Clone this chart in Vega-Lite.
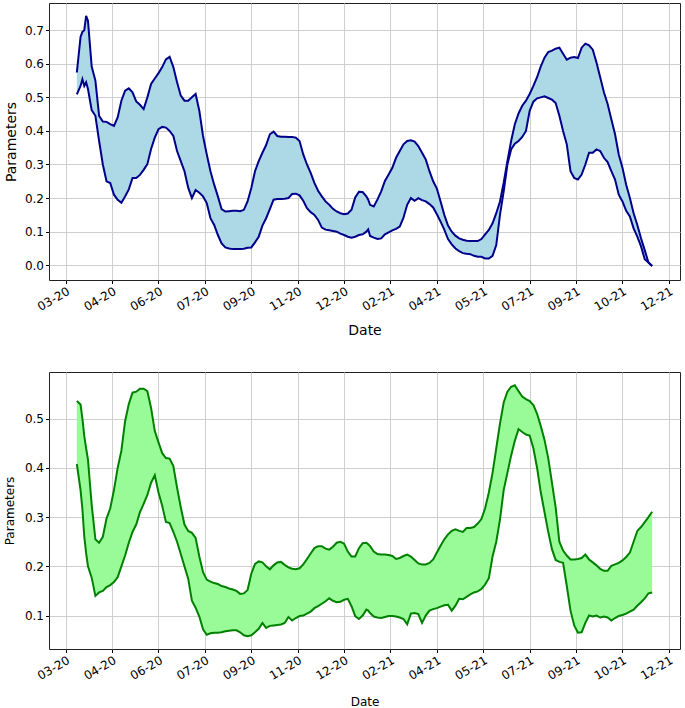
{
"$schema": "https://vega.github.io/schema/vega-lite/v6.json",
"padding": {"left": 2, "top": 2, "right": 3, "bottom": 2},
"spacing": 33,
"config": {
 "font": "DejaVu Sans",
 "view": {"stroke": "#222", "strokeWidth": 1},
 "axis": {"domain": false, "labelFontSize": 12, "labelColor": "#000", "tickColor": "#000", "tickSize": 3.5, "labelPadding": 2, "labelOverlap": false, "gridColor": "#cfcfcf", "gridWidth": 1, "titleFontWeight": "normal", "titleColor": "#000", "labelFont": "DejaVu Sans", "titleFont": "DejaVu Sans"}
},
"datasets": {"d": [
{"date":"2020-03-14","tu":0.574,"tl":0.509,"bu":0.536,"bl":0.408},
{"date":"2020-03-18","tu":0.68,"tl":0.534,"bu":0.529,"bl":0.355},
{"date":"2020-03-20","tu":0.695,"tl":0.554,"bu":0.50,"bl":0.316},
{"date":"2020-03-22","tu":0.70,"tl":0.534,"bu":0.465,"bl":0.261},
{"date":"2020-03-24","tu":0.743,"tl":0.545,"bu":0.44,"bl":0.227},
{"date":"2020-03-26","tu":0.728,"tl":0.525,"bu":0.417,"bl":0.2},
{"date":"2020-03-30","tu":0.592,"tl":0.462,"bu":0.325,"bl":0.177},
{"date":"2020-04-03","tu":0.55,"tl":0.445,"bu":0.255,"bl":0.14},
{"date":"2020-04-07","tu":0.445,"tl":0.37,"bu":0.248,"bl":0.147},
{"date":"2020-04-11","tu":0.428,"tl":0.30,"bu":0.26,"bl":0.15},
{"date":"2020-04-15","tu":0.427,"tl":0.25,"bu":0.297,"bl":0.158},
{"date":"2020-04-19","tu":0.42,"tl":0.245,"bu":0.318,"bl":0.162},
{"date":"2020-04-23","tu":0.415,"tl":0.21,"bu":0.355,"bl":0.168},
{"date":"2020-04-27","tu":0.44,"tl":0.195,"bu":0.40,"bl":0.178},
{"date":"2020-05-01","tu":0.49,"tl":0.186,"bu":0.435,"bl":0.2},
{"date":"2020-05-05","tu":0.52,"tl":0.205,"bu":0.495,"bl":0.222},
{"date":"2020-05-09","tu":0.527,"tl":0.226,"bu":0.53,"bl":0.248},
{"date":"2020-05-13","tu":0.515,"tl":0.26,"bu":0.553,"bl":0.27},
{"date":"2020-05-17","tu":0.488,"tl":0.26,"bu":0.555,"bl":0.285},
{"date":"2020-05-21","tu":0.478,"tl":0.269,"bu":0.561,"bl":0.31},
{"date":"2020-05-25","tu":0.465,"tl":0.284,"bu":0.561,"bl":0.327},
{"date":"2020-05-29","tu":0.50,"tl":0.301,"bu":0.556,"bl":0.345},
{"date":"2020-06-02","tu":0.54,"tl":0.346,"bu":0.522,"bl":0.37},
{"date":"2020-06-06","tu":0.556,"tl":0.38,"bu":0.475,"bl":0.385},
{"date":"2020-06-10","tu":0.572,"tl":0.405,"bu":0.452,"bl":0.35},
{"date":"2020-06-14","tu":0.59,"tl":0.412,"bu":0.43,"bl":0.323},
{"date":"2020-06-18","tu":0.613,"tl":0.41,"bu":0.42,"bl":0.29},
{"date":"2020-06-22","tu":0.621,"tl":0.40,"bu":0.419,"bl":0.288},
{"date":"2020-06-26","tu":0.59,"tl":0.385,"bu":0.404,"bl":0.27},
{"date":"2020-06-30","tu":0.545,"tl":0.34,"bu":0.36,"bl":0.25},
{"date":"2020-07-04","tu":0.505,"tl":0.31,"bu":0.32,"bl":0.225},
{"date":"2020-07-08","tu":0.49,"tl":0.28,"bu":0.285,"bl":0.2},
{"date":"2020-07-12","tu":0.49,"tl":0.231,"bu":0.272,"bl":0.175},
{"date":"2020-07-16","tu":0.50,"tl":0.20,"bu":0.268,"bl":0.13},
{"date":"2020-07-20","tu":0.51,"tl":0.224,"bu":0.258,"bl":0.116},
{"date":"2020-07-24","tu":0.46,"tl":0.216,"bu":0.22,"bl":0.098},
{"date":"2020-07-28","tu":0.385,"tl":0.205,"bu":0.188,"bl":0.072},
{"date":"2020-08-01","tu":0.33,"tl":0.185,"bu":0.173,"bl":0.061},
{"date":"2020-08-05","tu":0.28,"tl":0.14,"bu":0.169,"bl":0.064},
{"date":"2020-08-09","tu":0.24,"tl":0.12,"bu":0.166,"bl":0.065},
{"date":"2020-08-13","tu":0.205,"tl":0.09,"bu":0.164,"bl":0.065},
{"date":"2020-08-17","tu":0.167,"tl":0.065,"bu":0.16,"bl":0.066},
{"date":"2020-08-21","tu":0.16,"tl":0.053,"bu":0.158,"bl":0.068},
{"date":"2020-08-25","tu":0.161,"tl":0.05,"bu":0.155,"bl":0.069},
{"date":"2020-08-29","tu":0.162,"tl":0.048,"bu":0.153,"bl":0.07},
{"date":"2020-09-02","tu":0.162,"tl":0.048,"bu":0.15,"bl":0.07},
{"date":"2020-09-06","tu":0.161,"tl":0.048,"bu":0.144,"bl":0.066},
{"date":"2020-09-10","tu":0.165,"tl":0.049,"bu":0.145,"bl":0.06},
{"date":"2020-09-14","tu":0.19,"tl":0.052,"bu":0.152,"bl":0.058},
{"date":"2020-09-18","tu":0.23,"tl":0.053,"bu":0.185,"bl":0.06},
{"date":"2020-09-22","tu":0.28,"tl":0.068,"bu":0.205,"bl":0.066},
{"date":"2020-09-26","tu":0.31,"tl":0.085,"bu":0.21,"bl":0.073},
{"date":"2020-09-30","tu":0.335,"tl":0.118,"bu":0.208,"bl":0.085},
{"date":"2020-10-04","tu":0.358,"tl":0.14,"bu":0.2,"bl":0.075},
{"date":"2020-10-08","tu":0.39,"tl":0.167,"bu":0.194,"bl":0.079},
{"date":"2020-10-12","tu":0.398,"tl":0.195,"bu":0.202,"bl":0.08},
{"date":"2020-10-16","tu":0.385,"tl":0.197,"bu":0.208,"bl":0.081},
{"date":"2020-10-20","tu":0.383,"tl":0.197,"bu":0.209,"bl":0.082},
{"date":"2020-10-24","tu":0.383,"tl":0.198,"bu":0.203,"bl":0.085},
{"date":"2020-10-28","tu":0.382,"tl":0.2,"bu":0.198,"bl":0.097},
{"date":"2020-11-01","tu":0.382,"tl":0.212,"bu":0.195,"bl":0.09},
{"date":"2020-11-05","tu":0.38,"tl":0.213,"bu":0.194,"bl":0.095},
{"date":"2020-11-09","tu":0.37,"tl":0.208,"bu":0.196,"bl":0.099},
{"date":"2020-11-13","tu":0.33,"tl":0.192,"bu":0.204,"bl":0.1},
{"date":"2020-11-17","tu":0.30,"tl":0.17,"bu":0.215,"bl":0.104},
{"date":"2020-11-21","tu":0.275,"tl":0.158,"bu":0.226,"bl":0.108},
{"date":"2020-11-25","tu":0.245,"tl":0.15,"bu":0.237,"bl":0.115},
{"date":"2020-11-29","tu":0.222,"tl":0.135,"bu":0.241,"bl":0.119},
{"date":"2020-12-03","tu":0.205,"tl":0.112,"bu":0.241,"bl":0.124},
{"date":"2020-12-07","tu":0.19,"tl":0.106,"bu":0.236,"bl":0.129},
{"date":"2020-12-11","tu":0.18,"tl":0.104,"bu":0.234,"bl":0.135},
{"date":"2020-12-15","tu":0.168,"tl":0.102,"bu":0.24,"bl":0.13},
{"date":"2020-12-19","tu":0.16,"tl":0.1,"bu":0.248,"bl":0.127},
{"date":"2020-12-23","tu":0.155,"tl":0.094,"bu":0.25,"bl":0.128},
{"date":"2020-12-27","tu":0.152,"tl":0.09,"bu":0.246,"bl":0.132},
{"date":"2020-12-31","tu":0.154,"tl":0.085,"bu":0.23,"bl":0.134},
{"date":"2021-01-04","tu":0.165,"tl":0.082,"bu":0.22,"bl":0.119},
{"date":"2021-01-08","tu":0.202,"tl":0.085,"bu":0.22,"bl":0.099},
{"date":"2021-01-12","tu":0.219,"tl":0.09,"bu":0.237,"bl":0.093},
{"date":"2021-01-16","tu":0.218,"tl":0.092,"bu":0.247,"bl":0.1},
{"date":"2021-01-20","tu":0.205,"tl":0.1,"bu":0.248,"bl":0.112},
{"date":"2021-01-22","tu":0.195,"tl":0.107,"bu":0.245,"bl":0.11},
{"date":"2021-01-24","tu":0.18,"tl":0.087,"bu":0.241,"bl":0.105},
{"date":"2021-01-28","tu":0.175,"tl":0.082,"bu":0.23,"bl":0.098},
{"date":"2021-02-01","tu":0.196,"tl":0.078,"bu":0.225,"bl":0.096},
{"date":"2021-02-05","tu":0.22,"tl":0.08,"bu":0.224,"bl":0.095},
{"date":"2021-02-09","tu":0.251,"tl":0.092,"bu":0.224,"bl":0.097},
{"date":"2021-02-13","tu":0.27,"tl":0.098,"bu":0.223,"bl":0.099},
{"date":"2021-02-17","tu":0.29,"tl":0.104,"bu":0.221,"bl":0.099},
{"date":"2021-02-21","tu":0.32,"tl":0.108,"bu":0.215,"bl":0.098},
{"date":"2021-02-25","tu":0.34,"tl":0.115,"bu":0.217,"bl":0.096},
{"date":"2021-03-01","tu":0.36,"tl":0.142,"bu":0.221,"bl":0.093},
{"date":"2021-03-05","tu":0.37,"tl":0.18,"bu":0.224,"bl":0.082},
{"date":"2021-03-09","tu":0.372,"tl":0.2,"bu":0.22,"bl":0.104},
{"date":"2021-03-13","tu":0.368,"tl":0.192,"bu":0.213,"bl":0.105},
{"date":"2021-03-17","tu":0.355,"tl":0.2,"bu":0.206,"bl":0.103},
{"date":"2021-03-21","tu":0.335,"tl":0.194,"bu":0.204,"bl":0.085},
{"date":"2021-03-25","tu":0.315,"tl":0.19,"bu":0.204,"bl":0.1},
{"date":"2021-03-29","tu":0.28,"tl":0.182,"bu":0.207,"bl":0.11},
{"date":"2021-04-02","tu":0.25,"tl":0.172,"bu":0.214,"bl":0.113},
{"date":"2021-04-06","tu":0.228,"tl":0.152,"bu":0.228,"bl":0.115},
{"date":"2021-04-10","tu":0.19,"tl":0.13,"bu":0.242,"bl":0.118},
{"date":"2021-04-14","tu":0.15,"tl":0.106,"bu":0.255,"bl":0.121},
{"date":"2021-04-18","tu":0.118,"tl":0.078,"bu":0.265,"bl":0.122},
{"date":"2021-04-22","tu":0.1,"tl":0.062,"bu":0.272,"bl":0.11},
{"date":"2021-04-26","tu":0.088,"tl":0.05,"bu":0.275,"bl":0.12},
{"date":"2021-04-30","tu":0.08,"tl":0.042,"bu":0.272,"bl":0.134},
{"date":"2021-05-04","tu":0.076,"tl":0.036,"bu":0.27,"bl":0.133},
{"date":"2021-05-08","tu":0.073,"tl":0.034,"bu":0.278,"bl":0.138},
{"date":"2021-05-12","tu":0.072,"tl":0.033,"bu":0.278,"bl":0.143},
{"date":"2021-05-16","tu":0.072,"tl":0.028,"bu":0.28,"bl":0.147},
{"date":"2021-05-20","tu":0.072,"tl":0.025,"bu":0.287,"bl":0.149},
{"date":"2021-05-24","tu":0.078,"tl":0.025,"bu":0.296,"bl":0.154},
{"date":"2021-05-28","tu":0.092,"tl":0.02,"bu":0.318,"bl":0.163},
{"date":"2021-06-01","tu":0.105,"tl":0.02,"bu":0.35,"bl":0.176},
{"date":"2021-06-05","tu":0.125,"tl":0.028,"bu":0.39,"bl":0.22},
{"date":"2021-06-09","tu":0.155,"tl":0.06,"bu":0.44,"bl":0.25},
{"date":"2021-06-13","tu":0.19,"tl":0.15,"bu":0.49,"bl":0.295},
{"date":"2021-06-17","tu":0.246,"tl":0.22,"bu":0.533,"bl":0.355},
{"date":"2021-06-21","tu":0.31,"tl":0.30,"bu":0.555,"bl":0.39},
{"date":"2021-06-25","tu":0.37,"tl":0.345,"bu":0.565,"bl":0.425},
{"date":"2021-06-29","tu":0.42,"tl":0.362,"bu":0.568,"bl":0.455},
{"date":"2021-07-03","tu":0.452,"tl":0.37,"bu":0.556,"bl":0.479},
{"date":"2021-07-07","tu":0.475,"tl":0.382,"bu":0.545,"bl":0.473},
{"date":"2021-07-11","tu":0.49,"tl":0.40,"bu":0.54,"bl":0.468},
{"date":"2021-07-15","tu":0.51,"tl":0.46,"bu":0.536,"bl":0.466},
{"date":"2021-07-19","tu":0.534,"tl":0.487,"bu":0.528,"bl":0.44},
{"date":"2021-07-23","tu":0.56,"tl":0.497,"bu":0.51,"bl":0.40},
{"date":"2021-07-27","tu":0.592,"tl":0.50,"bu":0.485,"bl":0.35},
{"date":"2021-07-31","tu":0.618,"tl":0.503,"bu":0.457,"bl":0.31},
{"date":"2021-08-04","tu":0.635,"tl":0.498,"bu":0.42,"bl":0.27},
{"date":"2021-08-08","tu":0.639,"tl":0.493,"bu":0.37,"bl":0.235},
{"date":"2021-08-12","tu":0.645,"tl":0.483,"bu":0.32,"bl":0.213},
{"date":"2021-08-16","tu":0.648,"tl":0.445,"bu":0.25,"bl":0.209},
{"date":"2021-08-20","tu":0.63,"tl":0.40,"bu":0.232,"bl":0.207},
{"date":"2021-08-24","tu":0.612,"tl":0.36,"bu":0.222,"bl":0.16},
{"date":"2021-08-28","tu":0.618,"tl":0.28,"bu":0.214,"bl":0.11},
{"date":"2021-09-01","tu":0.62,"tl":0.26,"bu":0.214,"bl":0.08},
{"date":"2021-09-05","tu":0.617,"tl":0.255,"bu":0.215,"bl":0.065},
{"date":"2021-09-09","tu":0.648,"tl":0.27,"bu":0.217,"bl":0.066},
{"date":"2021-09-13","tu":0.66,"tl":0.30,"bu":0.224,"bl":0.085},
{"date":"2021-09-17","tu":0.655,"tl":0.335,"bu":0.214,"bl":0.1},
{"date":"2021-09-21","tu":0.642,"tl":0.335,"bu":0.208,"bl":0.098},
{"date":"2021-09-25","tu":0.604,"tl":0.345,"bu":0.202,"bl":0.1},
{"date":"2021-09-29","tu":0.56,"tl":0.34,"bu":0.195,"bl":0.096},
{"date":"2021-10-03","tu":0.515,"tl":0.32,"bu":0.191,"bl":0.098},
{"date":"2021-10-07","tu":0.48,"tl":0.307,"bu":0.191,"bl":0.096},
{"date":"2021-10-11","tu":0.435,"tl":0.28,"bu":0.201,"bl":0.09},
{"date":"2021-10-15","tu":0.39,"tl":0.255,"bu":0.204,"bl":0.095},
{"date":"2021-10-19","tu":0.33,"tl":0.21,"bu":0.207,"bl":0.099},
{"date":"2021-10-23","tu":0.29,"tl":0.19,"bu":0.212,"bl":0.101},
{"date":"2021-10-27","tu":0.24,"tl":0.162,"bu":0.219,"bl":0.104},
{"date":"2021-10-31","tu":0.2,"tl":0.145,"bu":0.228,"bl":0.108},
{"date":"2021-11-04","tu":0.155,"tl":0.11,"bu":0.25,"bl":0.112},
{"date":"2021-11-08","tu":0.12,"tl":0.085,"bu":0.272,"bl":0.12},
{"date":"2021-11-12","tu":0.08,"tl":0.056,"bu":0.28,"bl":0.127},
{"date":"2021-11-16","tu":0.045,"tl":0.018,"bu":0.29,"bl":0.135},
{"date":"2021-11-20","tu":0.008,"tl":0.008,"bu":0.3,"bl":0.145},
{"date":"2021-11-24","tu":-0.002,"tl":-0.002,"bu":0.311,"bl":0.147}
]},
"vconcat": [
{
 "width": 631, "height": 277,
 "data": {"name": "d"},
 "encoding": {"x": {"field": "date", "type": "temporal",
   "scale": {"type": "utc", "domain": [{"year": 2020, "month": 2, "date": 13, "utc": true}, {"year": 2021, "month": 12, "date": 24, "utc": true}]},
   "axis": {"title": "Date", "titleFontSize": 14, "titlePadding": 11, "format": "%m-%y", "labelAngle": -30,
     "values": [{"year":2020,"month":3,"date":2,"utc":true},{"year":2020,"month":4,"date":21,"utc":true},{"year":2020,"month":6,"date":10,"utc":true},{"year":2020,"month":7,"date":30,"utc":true},{"year":2020,"month":9,"date":18,"utc":true},{"year":2020,"month":11,"date":7,"utc":true},{"year":2020,"month":12,"date":27,"utc":true},{"year":2021,"month":2,"date":15,"utc":true},{"year":2021,"month":4,"date":6,"utc":true},{"year":2021,"month":5,"date":26,"utc":true},{"year":2021,"month":7,"date":15,"utc":true},{"year":2021,"month":9,"date":3,"utc":true},{"year":2021,"month":10,"date":23,"utc":true},{"year":2021,"month":12,"date":12,"utc":true}]}}},
 "layer": [
  {"mark": {"type": "area", "color": "#add8e6", "opacity": 1},
   "encoding": {"y": {"field": "tu", "type": "quantitative", "scale": {"domain": [-0.044, 0.781], "nice": false, "zero": false},
     "axis": {"title": "Parameters", "titleFontSize": 14, "titlePadding": 6, "format": ".1f", "labelOverlap": false, "values": [0, 0.1, 0.2, 0.3, 0.4, 0.5, 0.6, 0.7]}},
    "y2": {"field": "tl"}}},
  {"mark": {"type": "line", "color": "#00008b", "strokeWidth": 2}, "encoding": {"y": {"field": "tu", "type": "quantitative",
     "axis": {"title": "Parameters", "titleFontSize": 14, "titlePadding": 6, "format": ".1f", "labelOverlap": false, "values": [0, 0.1, 0.2, 0.3, 0.4, 0.5, 0.6, 0.7]}}}},
  {"mark": {"type": "line", "color": "#00008b", "strokeWidth": 2}, "encoding": {"y": {"field": "tl", "type": "quantitative",
     "axis": {"title": "Parameters", "titleFontSize": 14, "titlePadding": 6, "format": ".1f", "labelOverlap": false, "values": [0, 0.1, 0.2, 0.3, 0.4, 0.5, 0.6, 0.7]}}}}
 ]
},
{
 "width": 631, "height": 277,
 "data": {"name": "d"},
 "encoding": {"x": {"field": "date", "type": "temporal",
   "scale": {"type": "utc", "domain": [{"year": 2020, "month": 2, "date": 13, "utc": true}, {"year": 2021, "month": 12, "date": 24, "utc": true}]},
   "axis": {"title": "Date", "titleFontSize": 12, "titlePadding": 15, "format": "%m-%y", "labelAngle": -30,
     "values": [{"year":2020,"month":3,"date":2,"utc":true},{"year":2020,"month":4,"date":21,"utc":true},{"year":2020,"month":6,"date":10,"utc":true},{"year":2020,"month":7,"date":30,"utc":true},{"year":2020,"month":9,"date":18,"utc":true},{"year":2020,"month":11,"date":7,"utc":true},{"year":2020,"month":12,"date":27,"utc":true},{"year":2021,"month":2,"date":15,"utc":true},{"year":2021,"month":4,"date":6,"utc":true},{"year":2021,"month":5,"date":26,"utc":true},{"year":2021,"month":7,"date":15,"utc":true},{"year":2021,"month":9,"date":3,"utc":true},{"year":2021,"month":10,"date":23,"utc":true},{"year":2021,"month":12,"date":12,"utc":true}]}}},
 "layer": [
  {"mark": {"type": "area", "color": "#98fb98", "opacity": 1},
   "encoding": {"y": {"field": "bu", "type": "quantitative", "scale": {"domain": [0.032, 0.595], "nice": false, "zero": false},
     "axis": {"title": "Parameters", "titleFontSize": 12, "titlePadding": 8, "format": ".1f", "labelOverlap": false, "values": [0.1, 0.2, 0.3, 0.4, 0.5]}},
    "y2": {"field": "bl"}}},
  {"mark": {"type": "line", "color": "#008000", "strokeWidth": 2}, "encoding": {"y": {"field": "bu", "type": "quantitative",
     "axis": {"title": "Parameters", "titleFontSize": 12, "titlePadding": 8, "format": ".1f", "labelOverlap": false, "values": [0.1, 0.2, 0.3, 0.4, 0.5]}}}},
  {"mark": {"type": "line", "color": "#008000", "strokeWidth": 2}, "encoding": {"y": {"field": "bl", "type": "quantitative",
     "axis": {"title": "Parameters", "titleFontSize": 12, "titlePadding": 8, "format": ".1f", "labelOverlap": false, "values": [0.1, 0.2, 0.3, 0.4, 0.5]}}}}
 ]
}
]
}
